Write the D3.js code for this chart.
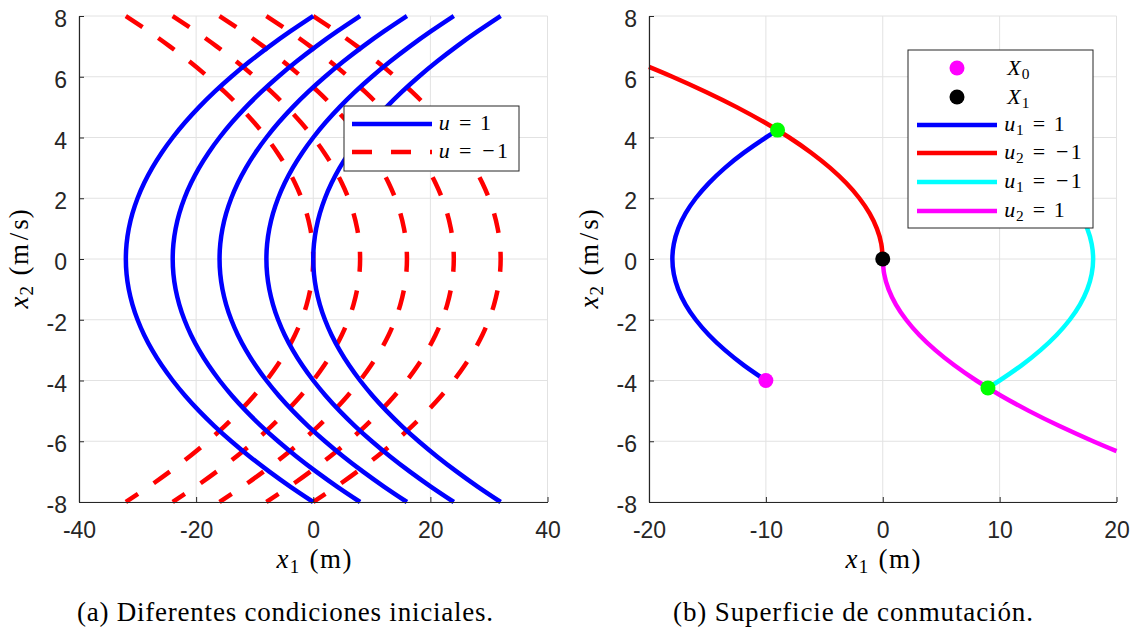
<!DOCTYPE html>
<html>
<head>
<meta charset="utf-8">
<script src="https://cdn.jsdelivr.net/npm/d3@7/dist/d3.min.js"></script>
<style>
  html, body { margin: 0; padding: 0; background: #fff; }
  svg { display: block; }
  .math { font-family: "Liberation Serif", "Times New Roman", serif; fill: #000; }
  .caption { font-family: "Liberation Serif", "Times New Roman", serif; font-size: 27px; fill: #000; }
</style>
</head>
<body>
<svg id="fig" width="1134" height="629"></svg>
<script>
// ---- Data ---------------------------------------------------------------
// Half-step velocity samples and the matching base parabola x2^2/2
const velocitySamples = [-8, -7.5, -7, -6.5, -6, -5.5, -5, -4.5, -4, -3.5, -3, -2.5, -2, -1.5, -1, -0.5,
                         0, 0.5, 1, 1.5, 2, 2.5, 3, 3.5, 4, 4.5, 5, 5.5, 6, 6.5, 7, 7.5, 8];
const baseParabola = [32, 28.125, 24.5, 21.125, 18, 15.125, 12.5, 10.125, 8, 6.125, 4.5, 3.125, 2, 1.125, 0.5, 0.125,
                      0, 0.125, 0.5, 1.125, 2, 3.125, 4.5, 6.125, 8, 10.125, 12.5, 15.125, 18, 21.125, 24.5, 28.125, 32];

// Panel (a): vertex positions of each family of trajectories
const vertexPlus = [-32, -24, -16, -8, 0];   // u = 1
const vertexMinus = [0, 8, 16, 24, 32];      // u = -1

// Panel (b): switching-surface trajectories (x1, x2)
const u1PlusX1 = [-10, -11.875, -13.5, -14.875, -16, -16.875, -17.5, -17.875, -18, -17.875, -17.5, -16.875, -16, -14.875, -13.5, -11.875, -10, -9];
const u1PlusX2 = [-4, -3.5, -3, -2.5, -2, -1.5, -1, -0.5, 0, 0.5, 1, 1.5, 2, 2.5, 3, 3.5, 4, 4.243];

const u2MinusX1 = [0, -0.125, -0.5, -1.125, -2, -3.125, -4.5, -6.125, -8, -10.125, -12.5, -15.125, -18, -20];
const u2MinusX2 = [0, 0.5, 1, 1.5, 2, 2.5, 3, 3.5, 4, 4.5, 5, 5.5, 6, 6.325];

const u1MinusX1 = [9, 10, 11.875, 13.5, 14.875, 16, 16.875, 17.5, 17.875, 18, 17.875, 17.5, 16.875, 16, 14.875, 13.5, 11.875, 10, 9];
const u1MinusX2 = [-4.243, -4, -3.5, -3, -2.5, -2, -1.5, -1, -0.5, 0, 0.5, 1, 1.5, 2, 2.5, 3, 3.5, 4, 4.243];

const u2PlusX1 = [0, 0.125, 0.5, 1.125, 2, 3.125, 4.5, 6.125, 8, 10.125, 12.5, 15.125, 18, 20];
const u2PlusX2 = [0, -0.5, -1, -1.5, -2, -2.5, -3, -3.5, -4, -4.5, -5, -5.5, -6, -6.325];

const startPoint = [-10, -4];      // X0
const endPoint = [0, 0];           // X1
const switchPoints = [[-9, 4.243], [9, -4.243]];

// Axis ticks
const ticksA = [-40, -20, 0, 20, 40];
const ticksB = [-20, -10, 0, 10, 20];
const ticksY = [-8, -6, -4, -2, 0, 2, 4, 6, 8];

// ---- Drawing -----------------------------------------------------------
const svg = d3.select("#fig");
const AXIS = "#262626", GRID = "#e2e2e2";
const LW = 4.5;

function makePanel(px0, px1, xDomain, xTicks) {
  const x = d3.scaleLinear().domain(xDomain).range([px0, px1]);
  const y = d3.scaleLinear().domain([-8, 8]).range([502, 16]);
  const g = svg.append("g");
  g.append("g").selectAll("line").data(xTicks).join("line")
    .attr("x1", d => x(d)).attr("x2", d => x(d)).attr("y1", y(-8)).attr("y2", y(8))
    .attr("stroke", GRID).attr("stroke-width", 1);
  g.append("g").selectAll("line").data(ticksY).join("line")
    .attr("y1", d => y(d)).attr("y2", d => y(d)).attr("x1", x(xDomain[0])).attr("x2", x(xDomain[1]))
    .attr("stroke", GRID).attr("stroke-width", 1);
  const plot = g.append("g");
  const ax = g.append("g");
  const fmt = d => d < 0 ? "-" + Math.abs(d) : String(d);
  const xAxis = d3.axisBottom(x).tickValues(xTicks).tickSizeInner(-5).tickSizeOuter(0).tickPadding(20).tickFormat(fmt);
  const yAxis = d3.axisLeft(y).tickValues(ticksY).tickSizeInner(-5).tickSizeOuter(0).tickPadding(12).tickFormat(fmt);
  const xa = ax.append("g").attr("transform", `translate(0,${y(-8)})`).call(xAxis);
  const ya = ax.append("g").attr("transform", `translate(${x(xDomain[0])},0)`).call(yAxis);
  [xa, ya].forEach(a => {
    a.attr("font-family", '"Liberation Sans", Arial, sans-serif').attr("font-size", 23);
    a.select(".domain").attr("stroke", AXIS).attr("stroke-width", 1.2);
    a.selectAll(".tick line").attr("stroke", AXIS).attr("stroke-width", 1);
    a.selectAll(".tick text").attr("fill", AXIS);
  });
  ya.selectAll(".tick text").attr("dy", "0.46em");
  return { x, y, g, plot, ax };
}

// TeX-style label: each piece sits in a slot whose width (em) follows
// Computer Modern advances, so spacing looks like typeset math.
// Letters carrying a subscript hug the end of their slot, subscripts the start.
function texLabel(parent, x, y, size, pieces, anchor, rotate) {
  const total = d3.sum(pieces, p => p.w) * size;
  const start = anchor === "middle" ? -total / 2 : 0;
  const g = parent.append("g").attr("transform", rotate ? `translate(${x},${y}) rotate(-90)` : `translate(${x},${y})`);
  const t = g.append("text").attr("class", "math").attr("font-size", size);
  let cx = start;
  pieces.forEach((p, i) => {
    const next = pieces[i + 1];
    const hug = next && next.sub;
    const s = t.append("tspan").text(p.t)
      .attr("y", p.sub ? size * 0.2 : 0);
    if (p.sub) s.attr("x", cx + 0.02 * size).attr("text-anchor", "start");
    else if (hug) s.attr("x", cx + p.w * size - 0.02 * size).attr("text-anchor", "end");
    else s.attr("x", cx + p.w * size / 2).attr("text-anchor", "middle");
    if (p.it) s.attr("font-style", "italic");
    if (p.sub) s.attr("font-size", size * 0.7);
    cx += p.w * size;
  });
  return g;
}
const SUB = w => ({ t: w, sub: true, w: 0.398 });
const EQ = { t: "=", w: 1.334 };
const SP = { t: " ", w: 0.333 };
const unitM = [{ t: "(", w: 0.389 }, { t: "m", w: 0.833 }, { t: ")", w: 0.389 }];
const unitMS = [{ t: "(", w: 0.389 }, { t: "m", w: 0.833 }, { t: "/", w: 0.5 }, { t: "s", w: 0.394 }, { t: ")", w: 0.389 }];

const line = d3.line().curve(d3.curveNatural);

// ---------------- Panel (a) ----------------
const A = makePanel(79, 547.5, [-40, 40], ticksA);
vertexMinus.forEach(v => {
  const n = baseParabola.length;
  const pts = velocitySamples.map((s, i) => [A.x(v - baseParabola[n - 1 - i]), A.y(velocitySamples[n - 1 - i])]);
  A.plot.append("path").attr("d", line(pts)).attr("fill", "none")
    .attr("stroke", "#ff0000").attr("stroke-width", LW).attr("stroke-dasharray", "20,19");
});
vertexPlus.forEach(v => {
  const pts = velocitySamples.map((s, i) => [A.x(v + baseParabola[i]), A.y(s)]);
  A.plot.append("path").attr("d", line(pts)).attr("fill", "none")
    .attr("stroke", "#0000ff").attr("stroke-width", LW);
});
A.ax.raise();

// legend (a)
const legA = svg.append("g");
legA.append("rect").attr("x", 344).attr("y", 106).attr("width", 175).attr("height", 65)
  .attr("fill", "#fff").attr("stroke", AXIS).attr("stroke-width", 1);
legA.append("line").attr("x1", 352).attr("x2", 432).attr("y1", 124).attr("y2", 124)
  .attr("stroke", "#0000ff").attr("stroke-width", LW);
legA.append("line").attr("x1", 352).attr("x2", 432).attr("y1", 152).attr("y2", 152)
  .attr("stroke", "#ff0000").attr("stroke-width", LW).attr("stroke-dasharray", "20,19");
texLabel(legA, 438, 130, 22, [{ t: "u", it: true, w: 0.572 }, EQ, { t: "1", w: 0.5 }]);
texLabel(legA, 438, 158, 22, [{ t: "u", it: true, w: 0.572 }, EQ, { t: "\u2212", w: 0.778 }, { t: "1", w: 0.5 }]);

// axis labels (a)
texLabel(svg, 313, 568, 27, [{ t: "x", it: true, w: 0.572 }, SUB("1"), SP, ...unitM], "middle");
texLabel(svg, 28, 260, 27, [{ t: "x", it: true, w: 0.572 }, SUB("2"), SP, ...unitMS], "middle", true);
svg.append("text").attr("class", "caption").attr("x", 285).attr("y", 621).attr("text-anchor", "middle")
  .attr("textLength", 416).attr("lengthAdjust", "spacing")
  .text("(a) Diferentes condiciones iniciales.");

// ---------------- Panel (b) ----------------
const B = makePanel(649, 1116.5, [-20, 20], ticksB);
function curve(xs, ys, color) {
  const pts = xs.map((v, i) => [B.x(v), B.y(ys[i])]);
  B.plot.append("path").attr("d", line(pts)).attr("fill", "none")
    .attr("stroke", color).attr("stroke-width", LW);
}
curve(u1PlusX1, u1PlusX2, "#0000ff");
curve(u2MinusX1, u2MinusX2, "#ff0000");
curve(u1MinusX1, u1MinusX2, "#00ffff");
curve(u2PlusX1, u2PlusX2, "#ff00ff");
B.plot.append("circle").attr("cx", B.x(startPoint[0])).attr("cy", B.y(startPoint[1])).attr("r", 7.5).attr("fill", "#ff00ff");
B.plot.append("circle").attr("cx", B.x(endPoint[0])).attr("cy", B.y(endPoint[1])).attr("r", 7.5).attr("fill", "#000");
B.plot.selectAll(".sw").data(switchPoints).join("circle")
  .attr("cx", d => B.x(d[0])).attr("cy", d => B.y(d[1])).attr("r", 7.5).attr("fill", "#00ff00");
B.ax.raise();

// legend (b)
const legB = svg.append("g");
legB.append("rect").attr("x", 908).attr("y", 50).attr("width", 185).attr("height", 178)
  .attr("fill", "#fff").attr("stroke", AXIS).attr("stroke-width", 1);
legB.append("circle").attr("cx", 957).attr("cy", 68).attr("r", 7.5).attr("fill", "#ff00ff");
legB.append("circle").attr("cx", 957).attr("cy", 97).attr("r", 7.5).attr("fill", "#000");
texLabel(legB, 1003, 75, 22, [{ t: "X", it: true, w: 0.828 }, SUB("0")]);
texLabel(legB, 1003, 104, 22, [{ t: "X", it: true, w: 0.828 }, SUB("1")]);
const legLines = [
  { c: "#0000ff", y: 125, s: "1", neg: false },
  { c: "#ff0000", y: 153, s: "2", neg: true },
  { c: "#00ffff", y: 182, s: "1", neg: true },
  { c: "#ff00ff", y: 211, s: "2", neg: false }
];
legLines.forEach(d => {
  legB.append("line").attr("x1", 917).attr("x2", 997).attr("y1", d.y).attr("y2", d.y)
    .attr("stroke", d.c).attr("stroke-width", LW);
  const pieces = [{ t: "u", it: true, w: 0.572 }, SUB(d.s), EQ];
  if (d.neg) pieces.push({ t: "\u2212", w: 0.778 });
  pieces.push({ t: "1", w: 0.5 });
  texLabel(legB, 1003, d.y + 6, 22, pieces);
});

// axis labels (b)
texLabel(svg, 882, 568, 27, [{ t: "x", it: true, w: 0.572 }, SUB("1"), SP, ...unitM], "middle");
texLabel(svg, 598, 260, 27, [{ t: "x", it: true, w: 0.572 }, SUB("2"), SP, ...unitMS], "middle", true);
svg.append("text").attr("class", "caption").attr("x", 853).attr("y", 621).attr("text-anchor", "middle")
  .attr("textLength", 360).attr("lengthAdjust", "spacing")
  .text("(b) Superficie de conmutación.");
</script>
</body>
</html>
